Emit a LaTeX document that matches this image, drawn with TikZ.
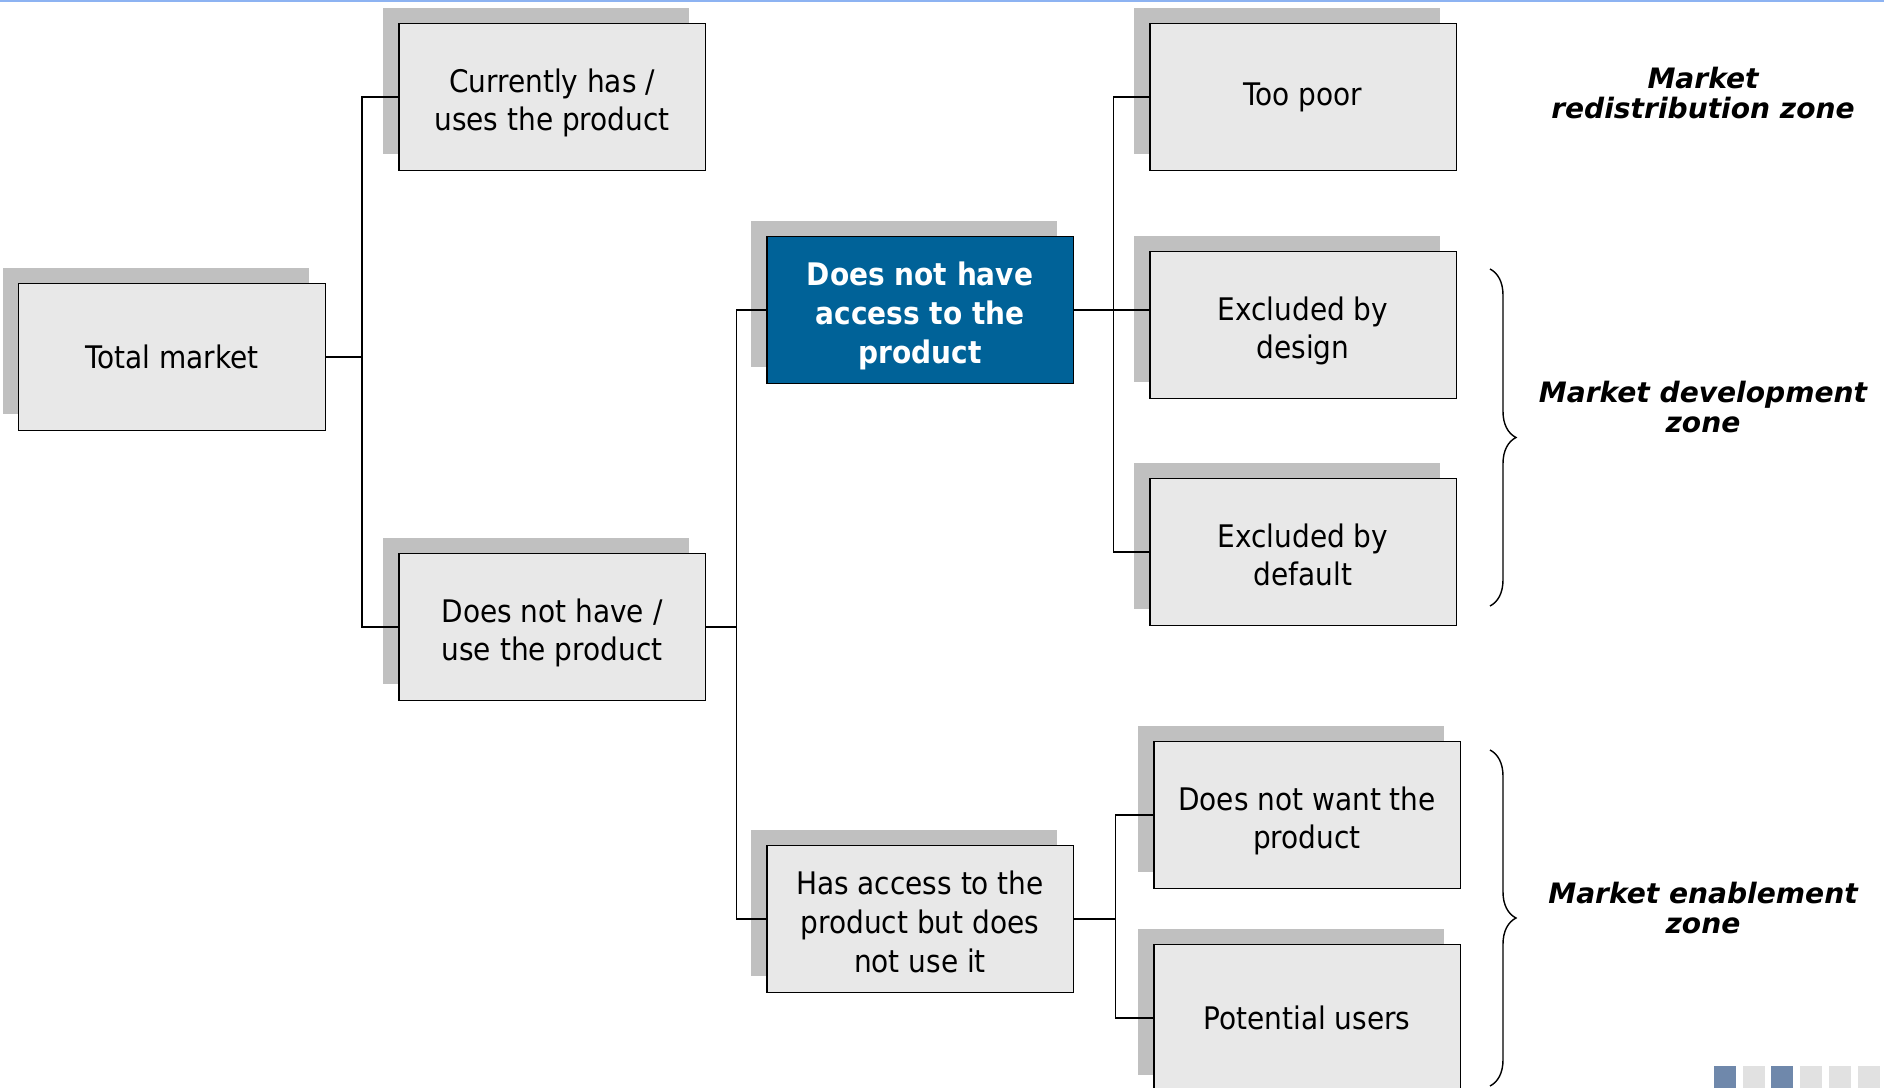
\documentclass[tikz,border=0pt]{standalone}
\usepackage{fontspec}
\setmainfont{DejaVu Sans Condensed}
\newfontfamily\labfont{DejaVu Sans}
\usetikzlibrary{shadows,decorations.pathreplacing}
\definecolor{boxgrey}{HTML}{E8E8E8}
\definecolor{shadgrey}{HTML}{C0C0C0}
\definecolor{bluebox}{HTML}{006298}
\definecolor{topline}{HTML}{8DB3F2}
\definecolor{sqblue}{HTML}{6F88AB}
\definecolor{sqgrey}{HTML}{E1E1E1}
\newcommand\mlines[1]{\raisebox{-3.8pt}[\height][\depth]{\begin{tabular}{@{}c@{}}#1\end{tabular}}}
\begin{document}
\begin{tikzpicture}[x=0.02cm,y=-0.02cm,
  box/.style={draw=black, line width=1.1pt, fill=boxgrey, minimum width=6.14cm,
    minimum height=2.94cm, inner sep=0pt, align=center,
    font=\fontsize{17.7}{22}\selectfont,
    general shadow={fill=shadgrey, shadow xshift=-0.32cm, shadow yshift=0.32cm}},
  hibox/.style={box, fill=bluebox, text=white, font=\bfseries\fontsize{17.7}{22}\selectfont},
  conn/.style={draw=black, line width=0.85pt},
  lab/.style={align=center, font=\labfont\bfseries\itshape\fontsize{16}{17.5}\selectfont},
  zonebrace/.style={decorate, decoration={brace, amplitude=0.52cm}, line width=0.8pt},
  sq/.style={minimum size=0.44cm, inner sep=0pt, anchor=north west}]
\useasboundingbox (0,0) rectangle (1884,1088);
\draw[topline, line width=1.2pt] (0,1) -- (1884,1);

\node[box] (tm) at (172,357) {Total market};
\node[box] (b2) at (552,97) {\mlines{Currently has /\\uses the product}};
\node[box] (b3) at (552,627) {\mlines{Does not have /\\use the product}};
\node[hibox] (b4) at (920,310) {\mlines{Does not have\\access to the\\product}};
\node[box] (b5) at (920,919) {\mlines{Has access to the\\product but does\\not use it}};
\node[box] (b6) at (1303,97) {Too poor};
\node[box] (b7) at (1303,325) {\mlines{Excluded by\\design}};
\node[box] (b8) at (1303,552) {\mlines{Excluded by\\default}};
\node[box] (b9) at (1307,815) {\mlines{Does not want the\\product}};
\node[box] (b10) at (1307,1018) {Potential users};

\coordinate (j1) at (362,357);
\draw[conn] (tm.east) -- (j1);
\draw[conn] (b2.west) -| (j1) |- (b3.west);

\path (b3.east) ++(30,0) coordinate (j2);
\draw[conn] (b3.east) -- (j2);
\draw[conn] (b4.west) -| (j2) |- (b5.west);

\path (b4.east) ++(39,0) coordinate (j3);
\draw[conn] (b4.east) -- (b4.east -| b7.west);
\draw[conn] (b6.west) -| (j3) |- (b8.west);

\path (b5.east) ++(41,0) coordinate (j4);
\draw[conn] (b5.east) -- (j4);
\draw[conn] (b9.west) -| (j4) |- (b10.west);

\coordinate (br1a) at (1490,269);
\coordinate (br1b) at (1490,606);
\coordinate (br2a) at (1490,750);
\coordinate (br2b) at (1490,1086);
\draw[zonebrace] (br1a) -- (br1b);
\draw[zonebrace] (br2a) -- (br2b);

\node[lab] (z1) at (1703,93) {Market\\redistribution zone};
\node[lab] (z2) at (1703,407) {Market development\\zone};
\node[lab] (z3) at (1703,908) {Market enablement\\zone};

\node[sq, fill=sqblue] (s1) at (1714,1066) {};
\node[sq, fill=sqgrey] (s2) at (1743,1066) {};
\node[sq, fill=sqblue] (s3) at (1771,1066) {};
\node[sq, fill=sqgrey] (s4) at (1800,1066) {};
\node[sq, fill=sqgrey] (s5) at (1829,1066) {};
\node[sq, fill=sqgrey] (s6) at (1858,1066) {};
\end{tikzpicture}
\end{document}
